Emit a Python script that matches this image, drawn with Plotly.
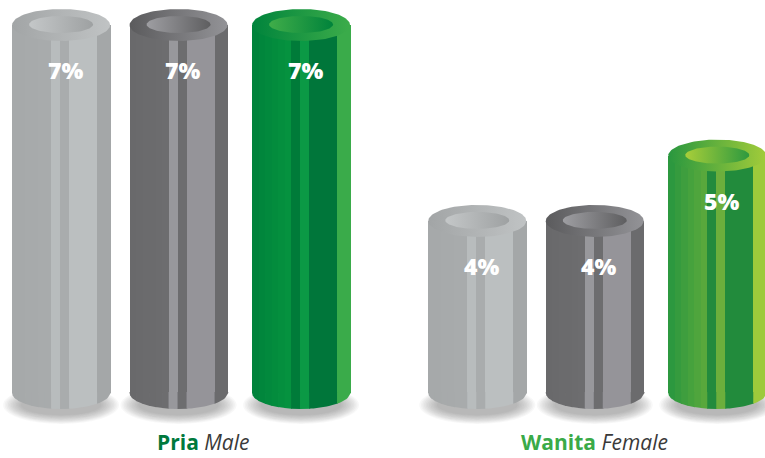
import numpy as np
import plotly.graph_objects as go

# ---------------- data ----------------
groups_id = ["Pria", "Wanita"]
groups_en = ["Male", "Female"]
series_light = [7, 4]   # light grey cylinders
series_dark = [7, 4]    # dark grey cylinders
series_green = [7, 5]   # green cylinders
all_series = [series_light, series_dark, series_green]

# ---------------- geometry (pixels / axis units) ----------------
W, H = 765, 458
X_RANGE = [-0.429, 1.409]
Y_RANGE = [0.369, 7.383]
XPX = W / (X_RANGE[1] - X_RANGE[0])     # pixels per x unit
YPX = H / (Y_RANGE[1] - Y_RANGE[0])     # pixels per y unit
FLOOR = 1.365                           # level the cylinders stand on
SERIES_SHIFT_PX = [-117.5, 0.0, 122.5]  # centre of each cylinder inside a group
BAR_W = 98
RX, RY = 49, 16
INNER_RX, INNER_RY = 32, 8.5
STRIPE_EDGES = [0, 39, 48, 57, 85, 98]
GROUP_LABEL_SHIFT = [25, 0]

# ---------------- colours ----------------
LIGHT = dict(left=("#a6a9aa", "#a8abac"), s1="#b8bcbd", s2="#a9acad", right="#bbbfc0", edge="#a4a7a8",
             outer=("#a2a5a6", "#c0c3c4"), inner=("#c4c7c8", "#9ea1a2"))
DARK = dict(left=("#69696b", "#6d6d6f"), s1="#98989c", s2="#6d6d6f", right="#959499", edge="#6b6b6d",
            outer=("#5b5b5d", "#939397"), inner=("#9e9ea2", "#5e5e60"))
GREEN_DEEP = dict(left=("#00833b", "#05923f"), s1="#007b39", s2="#0b9945", right="#00763a", edge="#3aab4a",
                  outer=("#00843c", "#3cac4a"), inner=("#40ad49", "#00833b"))
GREEN_FRESH = dict(left=("#2c983f", "#58a83c"), s1="#228b3d", s2="#6caf3c", right="#228b3c", edge="#9dca3b",
                   outer=("#29973f", "#a2cc3a"), inner=("#a8ce39", "#2d993f"))


def style_for(j, i):
    if j == 0:
        return LIGHT
    if j == 1:
        return DARK
    return GREEN_DEEP if i == 0 else GREEN_FRESH


def mix(c1, c2, t):
    a = [int(c1[k:k + 2], 16) for k in (1, 3, 5)]
    b = [int(c2[k:k + 2], 16) for k in (1, 3, 5)]
    return "#%02x%02x%02x" % tuple(round(a[k] + (b[k] - a[k]) * t) for k in range(3))


def stripes(st):
    out = []
    n = 6
    a0, a1 = STRIPE_EDGES[0], STRIPE_EDGES[1]
    for k in range(n):
        xa = a0 + (a1 - a0) * k / n
        xb = a0 + (a1 - a0) * (k + 1) / n
        out.append((xa, xb, mix(st["left"][0], st["left"][1], k / (n - 1))))
    for (xa, xb), key in zip(zip(STRIPE_EDGES[1:-1], STRIPE_EDGES[2:]), ["s1", "s2", "right", "edge"]):
        out.append((xa, xb, st[key]))
    return out


fig = go.Figure()
shapes = []
annotations = []

for i, gname in enumerate(groups_id):
    gx = i
    for j, series in enumerate(all_series):
        v = series[i]
        st = style_for(j, i)
        cx = gx + SERIES_SHIFT_PX[j] / XPX

        # soft floor shadow (stacked translucent ellipses, below the traces)
        for k in range(12):
            rx = 58 - k * 1.6
            ry = 19 - k * 0.8
            shapes.append(dict(type="circle", layer="below", xref="x", yref="y",
                               xsizemode="pixel", ysizemode="pixel", xanchor=cx, yanchor=FLOOR,
                               x0=-rx, x1=rx, y0=-12 - ry, y1=-12 + ry,
                               fillcolor="rgba(90,90,90,0.042)", line=dict(width=0)))

        for xa, xb, col in stripes(st):
            wpx = xb - xa + 0.7
            # body stripe
            fig.add_trace(go.Bar(
                x=[gx], y=[v - FLOOR], base=[FLOOR],
                offset=(SERIES_SHIFT_PX[j] - BAR_W / 2 + xa) / XPX, width=wpx / XPX,
                marker=dict(color=col, line=dict(width=0)),
                hoverinfo="skip", showlegend=False))
            # curved bottom of the stripe
            xs = np.linspace(xa, xa + wpx, 14)
            xs_c = np.clip(xs, 0, BAR_W)
            dy = -RY * np.sqrt(np.clip(1 - ((xs_c - BAR_W / 2) / (BAR_W / 2)) ** 2, 0, 1))
            px = np.concatenate([xs, xs[::-1]])
            py = np.concatenate([np.full_like(xs, 1.0), dy[::-1]])
            fig.add_trace(go.Scatter(
                x=cx + (px - BAR_W / 2) / XPX, y=FLOOR + py / YPX,
                mode="lines", fill="toself", fillcolor=col,
                line=dict(width=0, color="rgba(0,0,0,0)"),
                hoverinfo="skip", showlegend=False))

        # top rim and opening
        t = np.linspace(0, 2 * np.pi, 120)
        fig.add_trace(go.Scatter(
            x=cx + RX * np.cos(t) / XPX, y=v + RY * np.sin(t) / YPX,
            mode="lines", fill="toself",
            fillgradient=dict(type="horizontal", colorscale=[[0, st["outer"][0]], [1, st["outer"][1]]]),
            line=dict(width=0, color="rgba(0,0,0,0)"),
            hoverinfo="skip", showlegend=False))
        fig.add_trace(go.Scatter(
            x=cx + INNER_RX * np.cos(t) / XPX, y=v + (0.5 + INNER_RY * np.sin(t)) / YPX,
            mode="lines", fill="toself",
            fillgradient=dict(type="horizontal", colorscale=[[0, st["inner"][0]], [1, st["inner"][1]]]),
            line=dict(width=0, color="rgba(0,0,0,0)"),
            hoverinfo="skip", showlegend=False))

        # value label
        annotations.append(dict(x=cx + 4 / XPX, y=v, xref="x", yref="y", yshift=-45,
                                text=f"{v}%", showarrow=False,
                                font=dict(family="Open Sans", size=23, color="white", weight=800)))

    gcol = "#00793d" if i == 0 else "#3aaa48"
    annotations.append(dict(
        x=gx, y=0, xref="x", yref="paper", yanchor="bottom", yshift=0,
        xshift=GROUP_LABEL_SHIFT[i],
        text=f"<span style='color:{gcol}'><b>{gname}</b></span> <i>{groups_en[i]}</i>",
        showarrow=False, font=dict(family="Open Sans", size=21, color="#3a3a3a")))

fig.update_layout(
    width=W, height=H, margin=dict(l=0, r=0, t=0, b=0),
    paper_bgcolor="white", plot_bgcolor="white",
    barmode="overlay", bargap=0,
    xaxis=dict(range=X_RANGE, visible=False, fixedrange=True),
    yaxis=dict(range=Y_RANGE, visible=False, fixedrange=True),
    shapes=shapes, annotations=annotations,
)

fig.write_html("out.html")
